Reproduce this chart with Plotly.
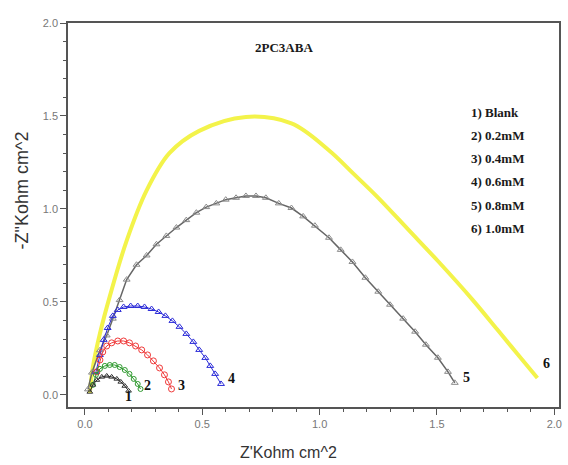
import plotly.graph_objects as go

# Nyquist data: Z' (Kohm cm^2) vs -Z'' (Kohm cm^2) for 2PC3ABA
blank_zr = [0.021, 0.034, 0.051, 0.072, 0.093, 0.114, 0.136, 0.153, 0.170, 0.186]
blank_zi = [0.016, 0.054, 0.080, 0.097, 0.102, 0.097, 0.086, 0.070, 0.048, 0.022]

c02_zr = [0.034, 0.047, 0.064, 0.085, 0.106, 0.127, 0.148, 0.170, 0.190, 0.208, 0.225, 0.237]
c02_zi = [0.054, 0.108, 0.140, 0.156, 0.161, 0.161, 0.150, 0.134, 0.113, 0.086, 0.059, 0.032]

c04_zr = [0.051, 0.064, 0.076, 0.093, 0.114, 0.140, 0.165, 0.190, 0.216, 0.242, 0.267,
          0.292, 0.318, 0.339, 0.356, 0.369]
c04_zi = [0.124, 0.188, 0.231, 0.263, 0.280, 0.290, 0.290, 0.280, 0.263, 0.242, 0.215,
          0.183, 0.145, 0.108, 0.070, 0.032]

c06_zr = [0.047, 0.064, 0.080, 0.097, 0.119, 0.140, 0.165, 0.195, 0.225, 0.254, 0.284,
          0.314, 0.343, 0.373, 0.403, 0.432, 0.462, 0.487, 0.513, 0.534, 0.555, 0.580]
c06_zi = [0.124, 0.215, 0.296, 0.360, 0.425, 0.457, 0.473, 0.478, 0.478, 0.473, 0.462,
          0.446, 0.425, 0.398, 0.366, 0.328, 0.285, 0.242, 0.199, 0.156, 0.113, 0.059]

c08_zr = [0.013, 0.030, 0.064, 0.093, 0.119, 0.148, 0.178, 0.220, 0.263, 0.305, 0.347,
          0.390, 0.432, 0.475, 0.517, 0.560, 0.600, 0.644, 0.686, 0.729, 0.771, 0.826,
          0.880, 0.930, 0.980, 1.040, 1.090, 1.140, 1.195, 1.250, 1.300, 1.356, 1.407,
          1.453, 1.504, 1.547, 1.576]
c08_zi = [0.030, 0.120, 0.240, 0.320, 0.410, 0.510, 0.620, 0.700, 0.750, 0.810, 0.855,
          0.900, 0.940, 0.980, 1.010, 1.030, 1.050, 1.060, 1.070, 1.070, 1.060, 1.030,
          1.005, 0.960, 0.910, 0.845, 0.780, 0.715, 0.630, 0.555, 0.485, 0.410, 0.340,
          0.270, 0.200, 0.124, 0.065]

c10_zr = [0.021, 0.034, 0.064, 0.106, 0.178, 0.263, 0.360, 0.487, 0.686, 0.880, 1.038,
          1.144, 1.250, 1.377, 1.504, 1.653, 1.758, 1.843, 1.928]
c10_zi = [0.011, 0.150, 0.330, 0.530, 0.830, 1.100, 1.300, 1.420, 1.495, 1.460, 1.317,
          1.190, 1.060, 0.890, 0.720, 0.510, 0.350, 0.220, 0.091]

legend_lines = ["1) Blank", "2) 0.2mM", "3) 0.4mM", "4) 0.6mM", "5) 0.8mM", "6) 1.0mM"]
curve_ids = ["1", "2", "3", "4", "5", "6"]

series = [
    (c10_zr, c10_zi, dict(color="#f3f34a", width=4), None),
    (c08_zr, c08_zi, dict(color="#666666", width=1.5),
     dict(symbol="triangle-up-open", size=6, color="#8a8a8a")),
    (c06_zr, c06_zi, dict(color="#2b2bd8", width=1),
     dict(symbol="triangle-up-open", size=6, color="#2b2bd8")),
    (c04_zr, c04_zi, dict(color="#f03a3a", width=1),
     dict(symbol="circle-open", size=6, color="#f03a3a")),
    (c02_zr, c02_zi, dict(color="#2e9a2e", width=1),
     dict(symbol="circle-open", size=5, color="#2e9a2e")),
    (blank_zr, blank_zi, dict(color="#222222", width=1),
     dict(symbol="triangle-up-open", size=5, color="#333333")),
]

fig = go.Figure()
for zr, zi, line, marker in series:
    if marker is None:
        fig.add_trace(go.Scatter(x=zr, y=zi, mode="lines", line=dict(shape="spline", **line),
                                 hoverinfo="skip"))
    else:
        fig.add_trace(go.Scatter(x=zr, y=zi, mode="lines+markers", line=line, marker=marker,
                                 hoverinfo="skip"))

# curve numbers at the end of each arc
ends = [(blank_zr, blank_zi, 0, -6), (c02_zr, c02_zi, 7, 3), (c04_zr, c04_zi, 10, 3),
        (c06_zr, c06_zi, 10, 5), (c08_zr, c08_zi, 12, 5), (c10_zr, c10_zi, 9, 14)]
annotations = []
for cid, (zr, zi, dx, dy) in zip(curve_ids, ends):
    annotations.append(dict(x=zr[-1], y=zi[-1], text=f"<b>{cid}</b>", showarrow=False,
                            xshift=dx, yshift=dy,
                            font=dict(family="Liberation Serif", size=14, color="#111111")))

serif_bold = dict(family="Liberation Serif", size=13, color="#1a1a1a")
annotations.append(dict(x=0.44, y=0.935, xref="paper", yref="paper", text="<b>2PC3ABA</b>",
                        showarrow=False, xanchor="center", yanchor="middle", font=serif_bold))
for i, txt in enumerate(legend_lines):
    annotations.append(dict(x=0.817, y=0.766 - i * 0.06, xref="paper", yref="paper",
                            text=f"<b>{txt}</b>", showarrow=False, xanchor="left",
                            yanchor="middle", font=serif_bold))

annotations.append(dict(x=0.45, y=-0.09, xref="paper", yref="paper", text="Z'Kohm cm^2",
                        showarrow=False, xanchor="center", yanchor="top",
                        font=dict(family="Liberation Sans", size=16, color="#333333")))
annotations.append(dict(x=-0.093, y=0.565, xref="paper", yref="paper", text="-Z\"Kohm cm^2",
                        showarrow=False, textangle=-90, xanchor="center", yanchor="middle",
                        font=dict(family="Liberation Sans", size=18, color="#333333")))

tick_font = dict(family="Liberation Sans", size=11, color="#777777")
axis_common = dict(
    dtick=0.5, tick0=0, tickformat=".1f", ticks="outside", ticklen=6, tickwidth=1,
    tickcolor="#555555", showline=True, linecolor="#555555", linewidth=1.5, mirror=True,
    showgrid=False, zeroline=False, tickfont=tick_font,
    minor=dict(dtick=0.1, tick0=0, ticks="outside", ticklen=3, tickcolor="#555555",
               showgrid=False),
)

fig.update_layout(
    width=568, height=465,
    margin=dict(l=68, r=6, t=23, b=58),
    paper_bgcolor="white", plot_bgcolor="white",
    showlegend=False,
    xaxis=dict(range=[-0.072, 2.02], **axis_common),
    yaxis=dict(range=[-0.065, 2.0], **axis_common),
    annotations=annotations,
)

fig.write_html("out.html")
